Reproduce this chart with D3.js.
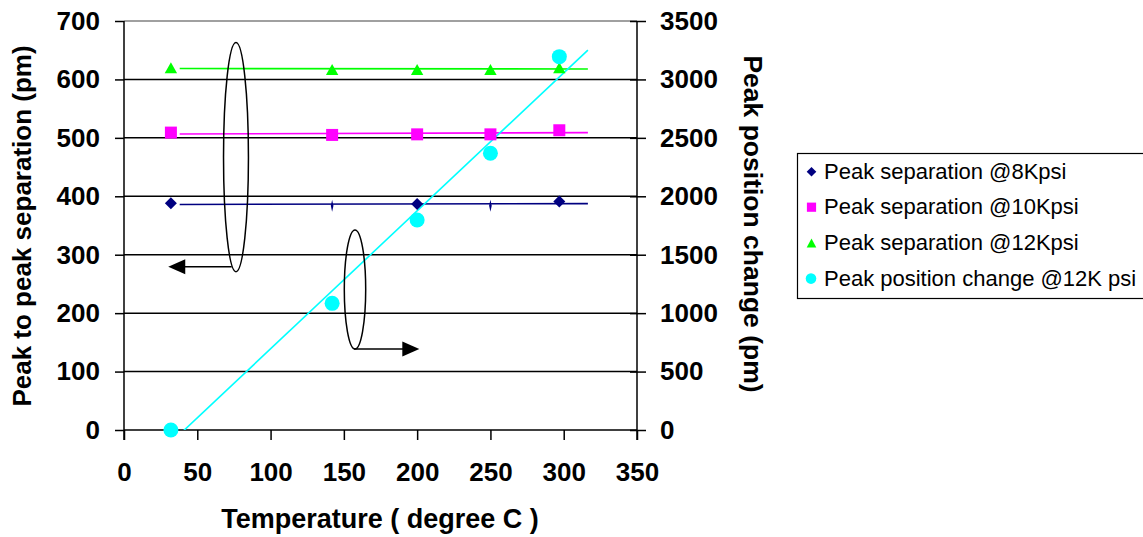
<!DOCTYPE html>
<html><head><meta charset="utf-8">
<script src="https://cdn.jsdelivr.net/npm/d3@7"></script>
<style>
body{margin:0;background:#fff}
text{font-family:"Liberation Sans",Arial,Helvetica,sans-serif}
</style>
</head><body>
<svg id="chart" width="1143" height="537"></svg>
<script>
// ---------- data ----------
const temperatures = [32, 142, 200, 250, 297];
const sep8Kpsi  = [388, 384, 387, 384, 391];
const sep10Kpsi = [509, 505, 506, 506, 513];
const sep12Kpsi = [620, 617, 617, 617, 620];
const posChange12Kpsi = [0, 1084, 1797, 2368, 3195];
const seriesNames = ["Peak separation @8Kpsi", "Peak separation @10Kpsi", "Peak separation @12Kpsi", "Peak position change @12K psi"];
const leftTicks  = [0, 100, 200, 300, 400, 500, 600, 700];
const rightTicks = [0, 500, 1000, 1500, 2000, 2500, 3000, 3500];
const xTicks     = [0, 50, 100, 150, 200, 250, 300, 350];
const trendRange = [38, 316.5];   // temperature range covered by trend lines
const xTitle = "Temperature ( degree C )";
const yLeftTitle = "Peak to peak separation (pm)";
const yRightTitle = "Peak position change (pm)";

// ---------- layout ----------
const svg = d3.select("#chart");
const L = 124, R = 637, T = 21, B = 430;
const x  = d3.scaleLinear().domain([0, 350]).range([L, R]);
const yL = d3.scaleLinear().domain([0, 700]).range([B, T]);
const yR = d3.scaleLinear().domain([0, 3500]).range([B, T]);
const colors = ["#000080", "#FF00FF", "#00FF00", "#00FFFF"];
const fmt = d3.format("d");

svg.append("defs").append("clipPath").attr("id", "plot")
  .append("rect").attr("x", L).attr("y", T).attr("width", R - L).attr("height", B - T);

// grid
svg.append("g").selectAll("line").data(leftTicks).join("line")
  .attr("x1", L).attr("x2", R)
  .attr("y1", d => yL(d)).attr("y2", d => yL(d))
  .attr("stroke", d => d === 700 ? "#808080" : "#000").attr("stroke-width", 1.5);

const tickFont = g => g.selectAll("text").attr("font-size", 26).attr("font-weight", "bold").attr("fill", "#000");

// left axis
const gl = svg.append("g").attr("transform", `translate(${L},0)`)
  .call(d3.axisLeft(yL).tickValues(leftTicks).tickFormat(fmt).tickSize(9).tickPadding(15));
gl.select(".domain").remove();
gl.selectAll("line").attr("stroke", "#000").attr("stroke-width", 1.5);
gl.call(tickFont);
svg.append("line").attr("x1", L).attr("x2", L).attr("y1", T).attr("y2", B + 10)
  .attr("stroke", "#000").attr("stroke-width", 1.5);

// bottom axis
const gb = svg.append("g").attr("transform", `translate(0,${B})`)
  .call(d3.axisBottom(x).tickValues(xTicks).tickFormat(fmt).tickSize(10).tickPadding(23));
gb.select(".domain").remove();
gb.selectAll("line").attr("stroke", "#000").attr("stroke-width", 1.5);
gb.call(tickFont);

// right axis
const gr = svg.append("g").attr("transform", `translate(${R},0)`)
  .call(d3.axisRight(yR).tickValues(rightTicks).tickFormat(fmt).tickSize(9).tickPadding(14));
gr.select(".domain").remove();
gr.selectAll(".tick line").attr("x1", -7).attr("stroke", "#000").attr("stroke-width", 1.5);
gr.call(tickFont);
svg.append("line").attr("x1", R).attr("x2", R).attr("y1", T).attr("y2", B + 10)
  .attr("stroke", "#000").attr("stroke-width", 1.5);

// axis titles
svg.append("text").attr("transform", `translate(31,226) rotate(-90)`)
  .attr("text-anchor", "middle").attr("font-size", 26).attr("font-weight", "bold").text(yLeftTitle);
svg.append("text").attr("transform", `translate(744,224) rotate(90)`)
  .attr("text-anchor", "middle").attr("font-size", 26.5).attr("font-weight", "bold").text(yRightTitle);
svg.append("text").attr("x", 380).attr("y", 528)
  .attr("text-anchor", "middle").attr("font-size", 27).attr("font-weight", "bold").text(xTitle);

// ---------- trend lines (least squares) ----------
function fit(xs, ys) {
  const mx = d3.mean(xs), my = d3.mean(ys);
  const sxy = d3.sum(xs, (v, i) => (v - mx) * (ys[i] - my));
  const sxx = d3.sum(xs, v => (v - mx) ** 2);
  const b = sxy / sxx;
  return t => my + b * (t - mx);
}
const seriesDefs = [
  {vals: sep8Kpsi, y: yL}, {vals: sep10Kpsi, y: yL}, {vals: sep12Kpsi, y: yL}, {vals: posChange12Kpsi, y: yR}
];
const trendG = svg.append("g").attr("clip-path", "url(#plot)");
seriesDefs.forEach((s, i) => {
  const f = fit(temperatures, s.vals);
  trendG.append("line")
    .attr("x1", x(trendRange[0])).attr("y1", s.y(f(trendRange[0])))
    .attr("x2", x(trendRange[1])).attr("y2", s.y(f(trendRange[1])))
    .attr("stroke", colors[i]).attr("stroke-width", 1.6);
});

// ---------- annotations ----------
const ann = svg.append("g").attr("fill", "none").attr("stroke", "#000").attr("stroke-width", 1.5);
const ellipses = [{t: 76.4, v: 467, rt: 8.5, rv: 196}, {t: 157.6, v: 240.5, rt: 7.3, rv: 101.8}];
ellipses.forEach(e => {
  ann.append("ellipse").attr("cx", x(e.t)).attr("cy", yL(e.v))
    .attr("rx", x(e.t + e.rt) - x(e.t)).attr("ry", yL(e.v) - yL(e.v + e.rv));
});
const arrows = [{from: 73.5, to: 30.2, v: 279.5}, {from: 156.9, to: 201.5, v: 138.6}];
arrows.forEach(a => {
  const x1 = x(a.from), x2 = x(a.to), yy = yL(a.v), dir = Math.sign(x2 - x1);
  ann.append("line").attr("x1", x1).attr("x2", x2 - dir * 8).attr("y1", yy).attr("y2", yy);
  svg.append("path").attr("fill", "#000")
    .attr("d", `M${x2},${yy} L${x2 - dir * 17},${yy - 7.5} L${x2 - dir * 17},${yy + 7.5} Z`);
});

// ---------- markers ----------
const diamond = (w, h) => `M0,${-h} L${w},0 L0,${h} L${-w},0 Z`;
const square = s => `M${-s},${-s} H${s} V${s} H${-s} Z`;
const triangle = (w, h) => `M0,${-h} L${w},${h} L${-w},${h} Z`;

// 8Kpsi diamonds (two of them are rendered as thin slivers in the original)
svg.append("g").selectAll("path").data(sep8Kpsi).join("path")
  .attr("transform", (d, i) => `translate(${x(temperatures[i])},${yL(d)})`)
  .attr("d", (d, i) => (i === 1 || i === 3) ? diamond(1.3, 6) : diamond(6, 6))
  .attr("fill", colors[0]);
svg.append("g").selectAll("path").data(sep10Kpsi).join("path")
  .attr("transform", (d, i) => `translate(${x(temperatures[i])},${yL(d)})`)
  .attr("d", square(6)).attr("fill", colors[1]);
svg.append("g").selectAll("path").data(sep12Kpsi).join("path")
  .attr("transform", (d, i) => `translate(${x(temperatures[i])},${yL(d)})`)
  .attr("d", triangle(6.2, 5.5)).attr("fill", colors[2]);
svg.append("g").selectAll("circle").data(posChange12Kpsi).join("circle")
  .attr("cx", (d, i) => x(temperatures[i])).attr("cy", d => yR(d))
  .attr("r", 7.5).attr("fill", colors[3]);

// ---------- legend ----------
const lg = svg.append("g");
lg.append("rect").attr("x", 797.5).attr("y", 153.5).attr("width", 400).attr("height", 145)
  .attr("fill", "#fff").attr("stroke", "#000").attr("stroke-width", 1.2);
const rowY = [171.7, 207.2, 242.9, 278.6];
const legendShapes = [diamond(4.8, 4.8), square(4.6), triangle(4.8, 4.5), null];
seriesNames.forEach((name, i) => {
  if (legendShapes[i]) {
    lg.append("path").attr("transform", `translate(811.5,${rowY[i]})`)
      .attr("d", legendShapes[i]).attr("fill", colors[i]);
  } else {
    lg.append("circle").attr("cx", 811).attr("cy", rowY[i]).attr("r", 5.3).attr("fill", colors[i]);
  }
  lg.append("text").attr("x", 824).attr("y", rowY[i] + 7.2)
    .attr("font-size", 22).attr("fill", "#000").text(name);
});
</script>
</body></html>
